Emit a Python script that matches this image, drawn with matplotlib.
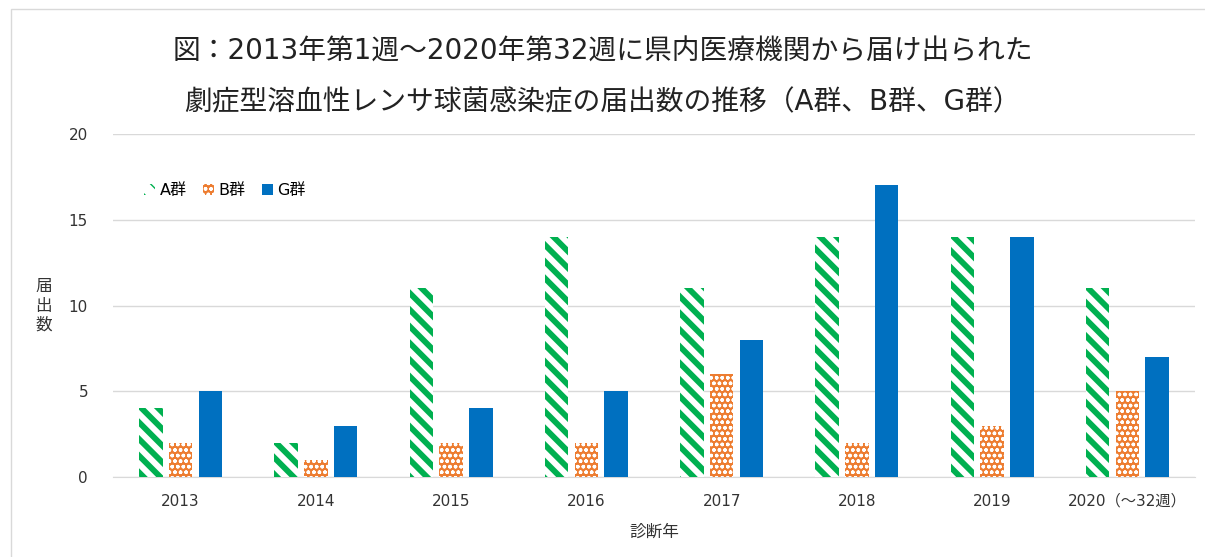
import numpy as np
import matplotlib.pyplot as plt
from matplotlib.patches import Rectangle

plt.rcParams['font.family'] = ['DejaVu Sans', 'Noto Sans CJK JP']

# data
years = ['2013', '2014', '2015', '2016', '2017', '2018', '2019', '2020（～32週）']
group_a = [4, 2, 11, 14, 11, 14, 14, 11]
group_b = [2, 1, 2, 2, 6, 2, 3, 5]
group_g = [5, 3, 4, 5, 8, 17, 14, 7]

fig = plt.figure(figsize=(12.05, 5.57), dpi=100)
ax = fig.add_axes([0.0938, 0.1436, 0.8979, 0.6158])

# chart border
fig.patches.append(Rectangle((0.009, -0.01), 1.0, 0.993, transform=fig.transFigure,
                             fill=False, edgecolor='#D9D9D9', linewidth=1))

x = np.arange(len(years))
w = 0.175
gap = 0.045

bars_a = ax.bar(x - w - gap, group_a, w, facecolor='white', edgecolor='#00B050',
                hatch='\\\\', linewidth=0, label='A群', zorder=3)
bars_b = ax.bar(x, group_b, w, facecolor='#ED7D31', edgecolor='white',
                hatch='ooo', linewidth=0, label='B群', zorder=3)
bars_g = ax.bar(x + w + gap, group_g, w, color='#0070C0', label='G群', zorder=3)

for b in bars_a:
    b.set_hatch_linewidth(4.2)
for b in bars_b:
    b.set_hatch_linewidth(1.0)

ax.set_xlim(-0.5, len(years) - 0.5)
ax.set_ylim(0, 20)
ax.set_yticks([0, 5, 10, 15, 20])
ax.set_xticks(x)
ax.set_xticklabels(years)
ax.tick_params(axis='both', length=0, labelsize=11, colors='#333333')
ax.tick_params(axis='x', pad=12)
ax.tick_params(axis='y', pad=18)
ax.grid(axis='y', color='#D9D9D9', linewidth=1, zorder=0)
for s in ['top', 'right', 'left']:
    ax.spines[s].set_visible(False)
ax.spines['bottom'].set_color('#D9D9D9')

ax.set_xlabel('診断年', fontsize=12, labelpad=10, color='#333333')
ax.set_ylabel('届\n出\n数', fontsize=12, rotation=0, labelpad=18, va='center',
              linespacing=1.1, color='#333333')

leg = ax.legend(loc='upper left', bbox_to_anchor=(0.015, 0.9), ncol=3, frameon=False,
                fontsize=11.5, handlelength=0.7, handleheight=0.7, handletextpad=0.3,
                columnspacing=1.0)

fig.text(0.5, 0.907, '図：2013年第1週～2020年第32週に県内医療機関から届け出られた',
         ha='center', va='center', fontsize=20, color='#222222')
fig.text(0.5, 0.817, '劇症型溶血性レンサ球菌感染症の届出数の推移（A群、B群、G群）',
         ha='center', va='center', fontsize=20, color='#222222')

fig.savefig('out.png', dpi=100)
